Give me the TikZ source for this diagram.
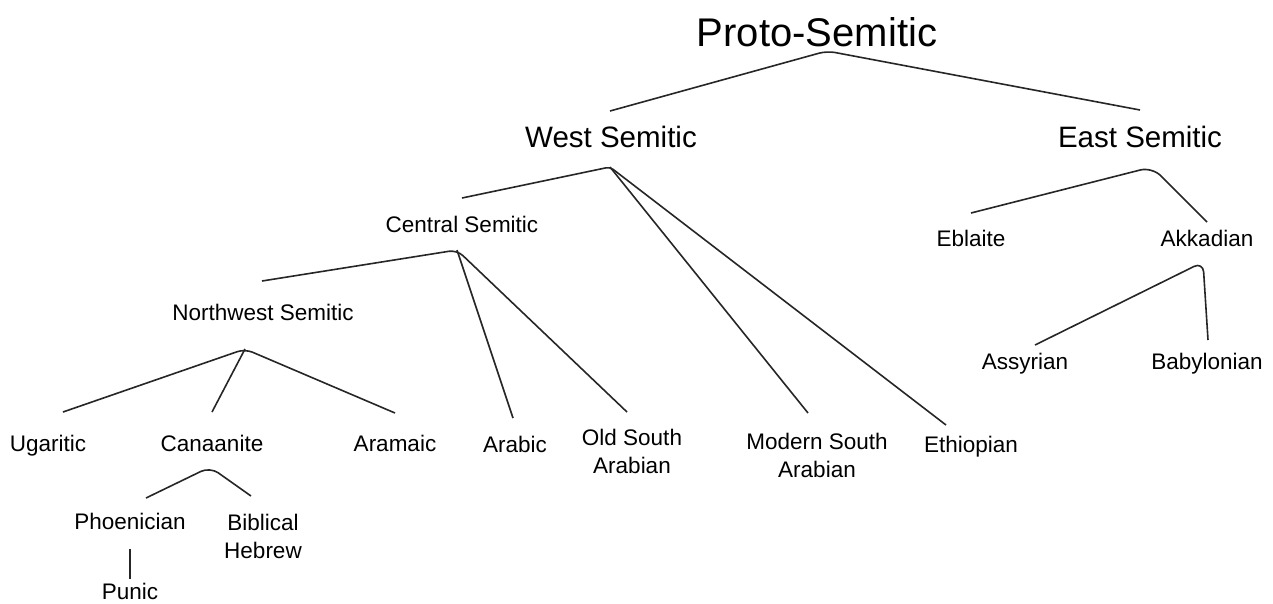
\documentclass[tikz,border=0pt]{standalone}
\usepackage{fontspec}
\setmainfont{Liberation Sans}
\begin{document}
\begin{tikzpicture}[x=1pt,y=-1pt,
  lab/.style={inner sep=0pt, anchor=base, align=center, text=black, font=\fontsize{22.5}{27.5}\selectfont},
  mid/.style={lab, font=\fontsize{29.5}{34}\selectfont},
  top/.style={lab, font=\fontsize{40}{46}\selectfont},
  branch/.style={draw=black!85, line width=1.6pt, rounded corners=8pt, line join=round}]
\useasboundingbox (0,0) rectangle (1273,603);
% nodes
\node[top] (ps) at (817,46) {Proto-Semitic};
\node[mid] (ws) at (611,147.5) {West Semitic};
\node[mid] (es) at (1140,147.5) {East Semitic};
\node[lab] (cs) at (462,232) {Central Semitic};
\node[lab] (eb) at (971,246) {Eblaite};
\node[lab] (ak) at (1207,246) {Akkadian};
\node[lab] (nw) at (263,320) {Northwest Semitic};
\node[lab] (as) at (1025,369) {Assyrian};
\node[lab] (ba) at (1207,369) {Babylonian};
\node[lab] (ug) at (48,451) {Ugaritic};
\node[lab] (ca) at (212,451) {Canaanite};
\node[lab] (ar) at (395,451) {Aramaic};
\node[lab] (ab) at (515,452) {Arabic};
\node[lab] (osa) at (632,473) {Old South\\Arabian};
\node[lab] (msa) at (817,477) {Modern South\\Arabian};
\node[lab] (et) at (971,452) {Ethiopian};
\node[lab] (ph) at (130,529) {Phoenician};
\node[lab] (bh) at (263,558) {Biblical\\Hebrew};
\node[lab] (pu) at (130,599) {Punic};
% branch points and line ends
\coordinate (psA) at (827,51);
\coordinate (psL) at (610,111);
\coordinate (psR) at (1140,110);
\coordinate (wsA) at (610,167);
\coordinate (wsL) at (462,198);
\coordinate (wsM) at (808,413);
\coordinate (wsR) at (946,425);
\coordinate (esA) at (1152,167);
\coordinate (esL) at (971,213);
\coordinate (esR) at (1207,222);
\coordinate (csA) at (457,250);
\coordinate (csL) at (262,281);
\coordinate (csM) at (513,418);
\coordinate (csR) at (627,412);
\coordinate (nwA) at (245,349);
\coordinate (nwL) at (63,412);
\coordinate (nwM) at (212,412);
\coordinate (nwR) at (395,413);
\coordinate (akA) at (1203,262);
\coordinate (akL) at (1035,345);
\coordinate (akR) at (1208,340);
\coordinate (caA) at (210,467);
\coordinate (caL) at (146,498);
\coordinate (caR) at (251,496);
\coordinate (phB) at (130,549);
\coordinate (puT) at (130,579);
% connectors
\draw[branch] (psL) -- (psA) -- (psR);
\draw[branch, rounded corners=4pt] (wsL) -- (wsA) -- (wsR);
\draw[branch] (wsA) -- (wsM);
\draw[branch, rounded corners=12pt] (esL) -- (esA) -- (esR);
\draw[branch] (csL) -- (csA) -- (csR);
\draw[branch] (csA) -- (csM);
\draw[branch] (nwL) -- (nwA) -- (nwR);
\draw[branch] (nwA) -- (nwM);
\draw[branch, rounded corners=10pt] (akL) -- (akA) -- (akR);
\draw[branch, rounded corners=10pt] (caL) -- (caA) -- (caR);
\draw[branch] (phB) -- (puT);
\end{tikzpicture}
\end{document}
